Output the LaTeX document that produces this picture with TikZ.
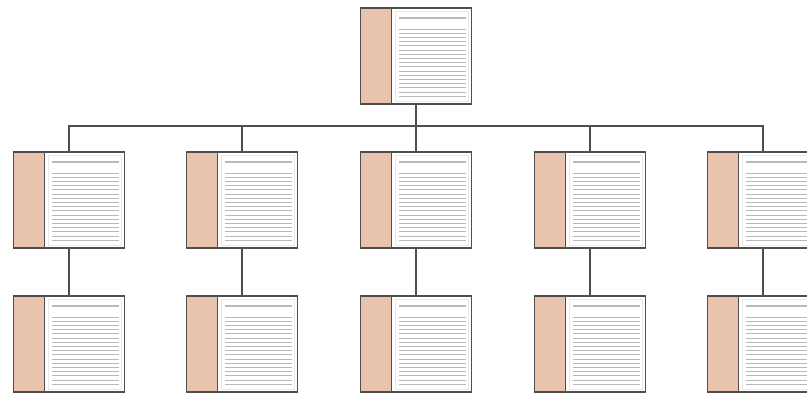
\documentclass[tikz,border=0pt]{standalone}
\definecolor{boxline}{HTML}{4E4E4E}
\definecolor{tabfill}{HTML}{E8C4AD}
\definecolor{rulegray}{HTML}{B8B8B8}
\definecolor{framegray}{HTML}{E8E8E8}
\tikzset{
  docbox/.style={draw=boxline, line width=1.5pt,
    minimum width=111pt, minimum height=96pt, inner sep=0pt, outer sep=0pt},
  wire/.style={draw=boxline, line width=1.4pt},
  tab/.style={fill=tabfill},
  headrule/.style={draw=rulegray, line width=2pt},
  textrule/.style={draw=rulegray, line width=0.9pt},
  pageframe/.style={draw=framegray, line width=0.6pt},
  divider/.style={draw=boxline, line width=1.5pt}
}
\begin{document}
\begin{tikzpicture}[x=1pt,y=-1pt]
  \useasboundingbox (0,0) rectangle (807,392);
  % root
  \node[docbox] (r) at (416,56) {};
  % second row
  \node[docbox] (a1) at (69,200) {};
  \node[docbox] (a2) at (242,200) {};
  \node[docbox] (a3) at (416,200) {};
  \node[docbox] (a4) at (590,200) {};
  \node[docbox] (a5) at (763,200) {};
  % third row
  \node[docbox] (b1) at (69,344) {};
  \node[docbox] (b2) at (242,344) {};
  \node[docbox] (b3) at (416,344) {};
  \node[docbox] (b4) at (590,344) {};
  \node[docbox] (b5) at (763,344) {};
  % document face of every box: coloured tab, ruled page
  \foreach \n in {r,a1,a2,a3,a4,a5,b1,b2,b3,b4,b5} {
    \begin{scope}[shift={(\n.north west)}]
      \path[tab] (0.75,0.75) rectangle (31,95.25);
      \path[pageframe] (35,3) rectangle (108,93);
      \path[headrule] (38,9.5) -- (105,9.5);
      \foreach \k in {0,...,16}
        \path[textrule] (38,21+4.2*\k) -- (105,21+4.2*\k);
      \path[divider] (31,0) -- (31,96);
    \end{scope}
  }
  % connectors
  \foreach \i in {1,...,5} {
    \draw[wire] (r.south) -- ++(0,22) -| (a\i.north);
    \draw[wire] (a\i.south) -- (b\i.north);
  }
\end{tikzpicture}
\end{document}
